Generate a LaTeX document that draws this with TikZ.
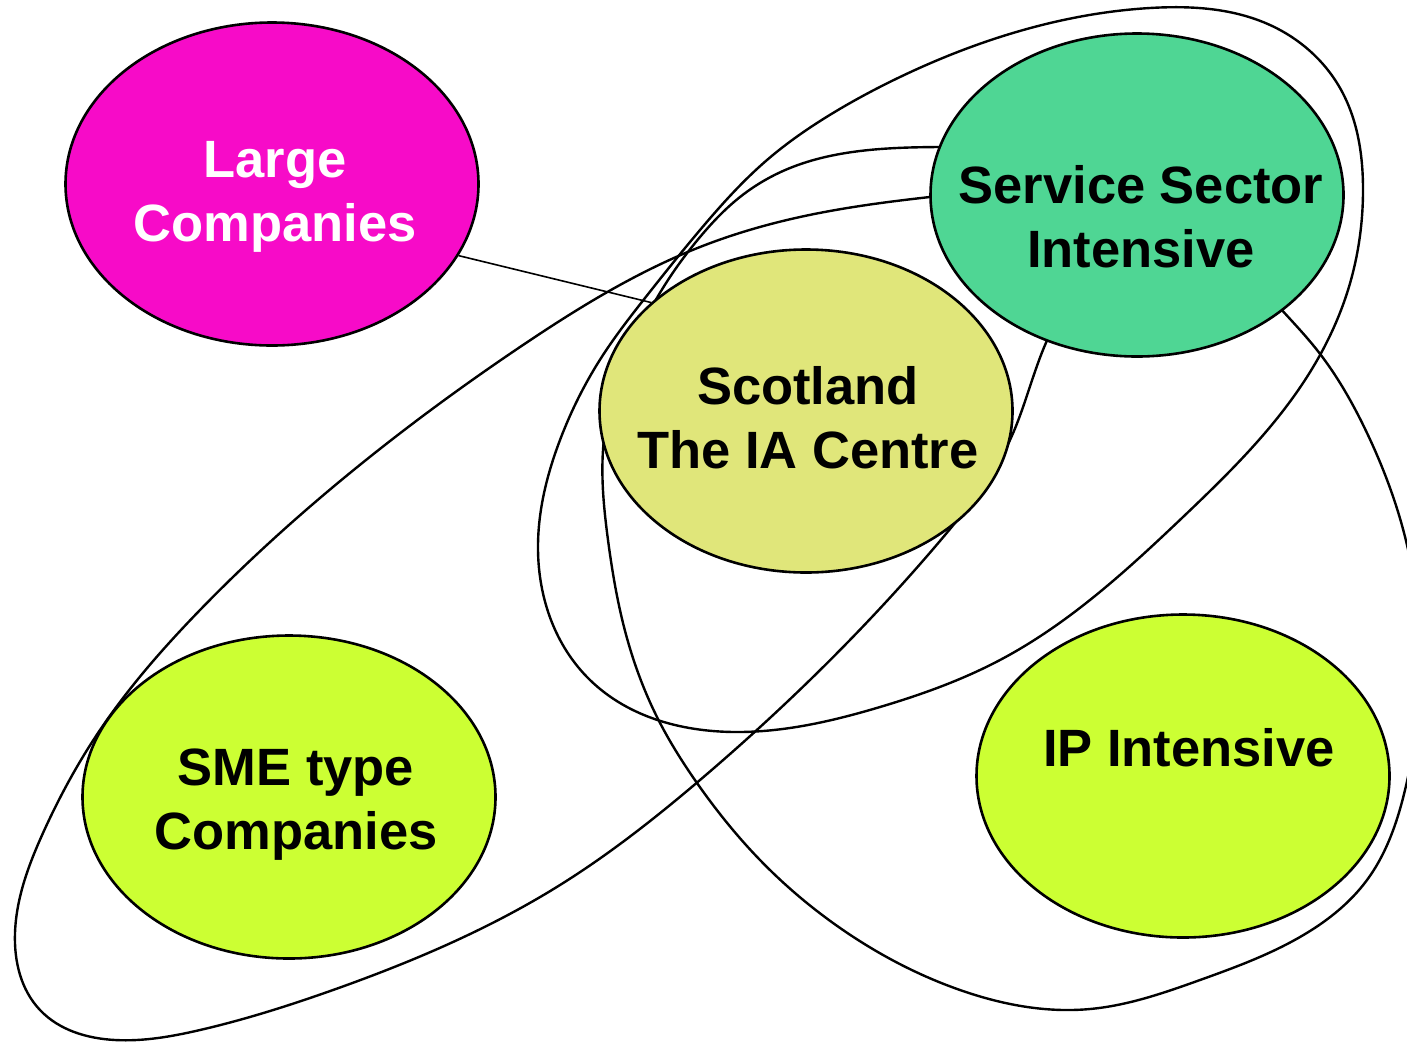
\documentclass[tikz,border=0pt]{standalone}
\usepackage{fontspec}
\setmainfont{Liberation Sans}
\usetikzlibrary{shapes.geometric,hobby}
\definecolor{magentafill}{RGB}{247,11,200}
\definecolor{servicefill}{RGB}{79,214,148}
\definecolor{scotfill}{RGB}{224,230,122}
\definecolor{limefill}{RGB}{204,255,51}

\begin{document}
\begin{tikzpicture}[x=1pt,y=-1pt,
  bubble/.style={ellipse, draw=black, line width=2.6pt, inner sep=0pt,
                 minimum width=413pt, minimum height=323pt},
  outline/.style={draw=black, line width=2.4pt, line join=round,
                  use Hobby shortcut, closed=true},
  bubbletext/.style={font=\fontsize{52.5}{64}\selectfont\bfseries,
                     align=center, anchor=base, inner sep=0pt},
  link/.style={draw=black, line width=1.6pt}]

\useasboundingbox (0,0) rectangle (1407,1042);
\fill[white] (0,0) rectangle (1407,1042);

% grouping outlines (drawn beneath the bubbles)
% long diagonal loop around SME, Scotland and Service
\draw[outline] (930,197) .. (800,217) .. (700,247) .. (520,347)
  .. (333,487) .. (200,610) .. (100,730) .. (43,833) .. (15,933)
  .. (40,1010) .. (115,1040) .. (200,1030) .. (333,990) .. (560,885)
  .. (700,780) .. (847,643) .. (945,535) .. (1010,440) .. (1045,345)
  .. (1068,262) .. (1025,205);

% loop around Scotland and Service
\draw[outline] (900,77) .. (1000,37) .. (1150,8) .. (1270,25) .. (1340,88)
  .. (1363,190) .. (1348,290) .. (1305,380) .. (1183,517)
  .. (1000,660) .. (880,707) .. (740,732) .. (590,680)
  .. (538,550) .. (560,440) .. (603,355) .. (645,298)
  .. (700,230) .. (767,160) .. (833,113);

% loop around Scotland, Service and IP
\draw[outline] (940,147) .. (860,151) .. (790,168) .. (740,197) .. (700,237)
  .. (668,280) .. (642,325) .. (614,390) .. (603,450)
  .. (608,540) .. (623,623) .. (657,717) .. (697,783) .. (760,860)
  .. (843,930) .. (960,990) .. (1090,1009) .. (1200,980) .. (1300,937)
  .. (1367,880) .. (1405,790) .. (1420,660) .. (1407,545) .. (1367,433)
  .. (1317,350) .. (1280,308) .. (1200,225) .. (1070,158);

% bubbles
\node[bubble, fill=magentafill] (large)   at (272,184) {};
\node[bubble, fill=servicefill] (service) at (1137,195) {};
\node[bubble, fill=scotfill]    (scot)    at (806,411) {};
\node[bubble, fill=limefill]    (sme)     at (289,797) {};
\node[bubble, fill=limefill]    (ip)      at (1183,776) {};

% connector from Large Companies to Scotland
\draw[link] (large.-21.8) -- (scot.145);

% bubble texts (anchored on the baseline of their last line)
\node[bubbletext, text=white] (large-t)   at (275,241)  {Large\\Companies};
\node[bubbletext]             (service-t) at (1141,267) {Service Sector\\Intensive};
\node[bubbletext]             (scot-t)    at (808,468)  {Scotland\\The IA Centre};
\node[bubbletext]             (sme-t)     at (296,849)  {SME type\\Companies};
\node[bubbletext]             (ip-t)      at (1189,766) {IP Intensive};

\end{tikzpicture}
\end{document}
